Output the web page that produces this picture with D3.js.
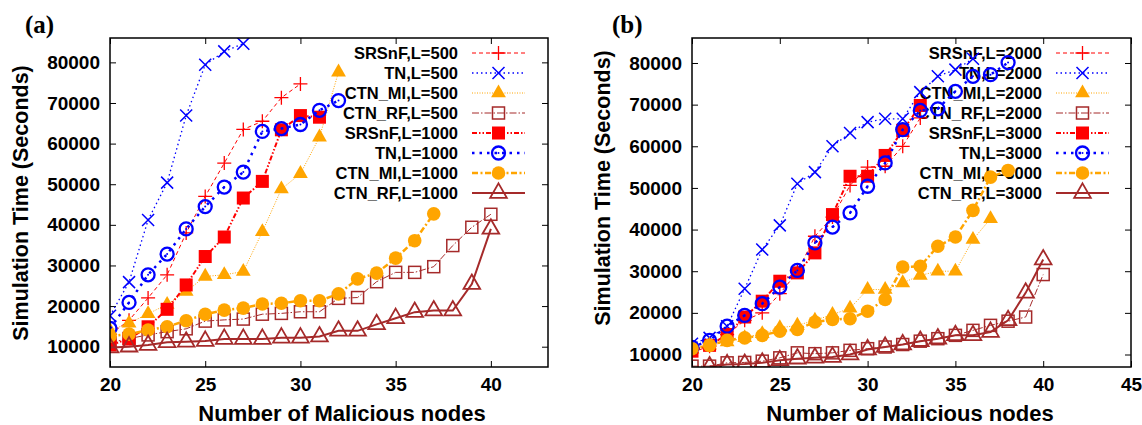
<!DOCTYPE html>
<html>
<head>
<meta charset="utf-8">
<script src="https://cdn.jsdelivr.net/npm/d3@7/dist/d3.min.js"></script>
<style>
body { margin: 0; background: white; }
text { font-family: "Liberation Sans", Arial, sans-serif; font-weight: bold; fill: black; }
.axis text { font-size: 19px; }
.axis line { stroke: black; stroke-width: 1; }
.axis path { display: none; }
</style>
</head>
<body>
<script>

// --- panel (a): values per series, x starts at 20 unless noted
const srsnf500  = [13000, 16500, 22000, 27700, 38000, 47000, 55200, 63500, 65500, 71300, 74700];
const tn500     = [17600, 25900, 41200, 50400, 66900, 79400, 82700, 84600];
const ctnmi500  = [14000, 15800, 18100, 20400, 23600, 27300, 27700, 28500, 38300, 48800, 52600, 61600, 77600];
const ctnrf500  = [11000, 12000, 12900, 13700, 14400, 16300, 16600, 16800, 18000, 18200, 18600, 18600,
                   21900, 22100, 26000, 28300, 28300, 29700, 34900, 39400, 42600];
const srsnf1000 = [10400, 11900, 14900, 19200, 25200, 32200, 37000, 46600, 50700, 63400, 66900, 66500];
const tn1000    = [14500, 20900, 27700, 32800, 39000, 44500, 49300, 53000, 63000, 63700, 64700, 68200, 70600];
const ctnmi1000 = [12600, 13100, 14100, 14900, 16400, 18000, 19000, 19500, 20500, 20700, 21300, 21300,
                   23000, 26700, 28100, 31800, 36100, 42700];
const ctnrf1000 = [9800, 10000, 10400, 11100, 11200, 11400, 11900, 11900, 11900, 12200, 12200, 12500,
                   13900, 13900, 15500, 17000, 18500, 18900, 18900, 25400, 39000];

// --- panel (b)
const srsnf2000 = [10500, 12000, 14800, 18200, 20000, 24600, 29800, 38400, 43000, 50600, 55000, 55200, 60000, 66800];
const tn2000    = [12600, 14000, 16800, 25800, 35200, 41000, 51000, 53800, 60000, 63200, 65800, 66600, 66600,
                   73000, 76800, 78400, 81000];
const ctnmi2000 = [11200, 12200, 13000, 14000, 15000, 16400, 17000, 18200, 19600, 21100, 25600, 25600,
                   27200, 29000, 30000, 30000, 37600, 42600];
const ctnrf2000 = [7200, 7200, 8000, 8100, 8400, 9200, 10400, 10200, 10400, 11000, 11400, 11800, 12400,
                   13200, 13800, 14600, 15800, 17000, 18000, 19000, 29200];
const srsnf3000 = [10800, 12200, 14800, 19000, 22800, 27600, 29600, 34400, 43600, 52800, 52800, 57800, 63800, 69800];
const tn3000    = [11700, 13400, 16800, 19400, 22200, 26200, 30200, 36800, 40600, 44000, 50400, 56000,
                   64000, 68600, 69000, 73200, 76800, 77200, 80100];
const ctnmi3000 = [11400, 12200, 13400, 14000, 14600, 15600, 16000, 17800, 18400, 18600, 20400, 23200,
                   31000, 31200, 36000, 38200, 44600, 52600, 54200];
const ctnrf3000 = [7100, 7600, 7700, 8000, 8600, 9000, 9200, 9400, 10000, 11200, 11800, 12400, 13200,
                   13800, 14600, 14600, 15400, 18200, 24800, 32800]; // starts at 21

const xTicksA = [20, 25, 30, 35, 40];
const xTicksB = [20, 25, 30, 35, 40, 45];
const yTicks = [10000, 20000, 30000, 40000, 50000, 60000, 70000, 80000];

const RED = "#ff0000", BLUE = "#0000ff", ORANGE = "#ffa500", BROWN = "#a52a2a";

// style for each of the 8 slots (same in both panels)
const styles = [
  {color: RED,    dash: "4,3",          width: 1,   marker: "plus"},
  {color: BLUE,   dash: "1.5,3",        width: 1.3, marker: "cross"},
  {color: ORANGE, dash: "1,1.5",        width: 1,   marker: "tri"},
  {color: BROWN,  dash: "7,2,1.5,2",    width: 1,   marker: "square"},
  {color: RED,    dash: "5,2,1.5,2,1.5,2", width: 2, marker: "fsquare"},
  {color: BLUE,   dash: "2.5,5",        width: 2.5, marker: "circle"},
  {color: ORANGE, dash: "6,2.5,2,2.5",  width: 2.5, marker: "fcircle"},
  {color: BROWN,  dash: null,           width: 2,   marker: "otri"}
];

const panels = [
  {
    label: "(a)", labelX: 25, xDom: [20, 43], yDom: [5000, 86000], left: 110, right: 548,
    xTicks: xTicksA, yTitleY: 203, xTitleX: 342, keyX: 458,
    series: [
      {name: "SRSnF,L=500", start: 20, v: srsnf500},
      {name: "TN,L=500", start: 20, v: tn500},
      {name: "CTN_MI,L=500", start: 20, v: ctnmi500},
      {name: "CTN_RF,L=500", start: 20, v: ctnrf500},
      {name: "SRSnF,L=1000", start: 20, v: srsnf1000},
      {name: "TN,L=1000", start: 20, v: tn1000},
      {name: "CTN_MI,L=1000", start: 20, v: ctnmi1000},
      {name: "CTN_RF,L=1000", start: 20, v: ctnrf1000}
    ]
  },
  {
    label: "(b)", labelX: 612, xDom: [20, 45], yDom: [7000, 86000], left: 692, right: 1131,
    xTicks: xTicksB, yTitleY: 188, xTitleX: 910, keyX: 1042,
    series: [
      {name: "SRSnF,L=2000", start: 20, v: srsnf2000},
      {name: "TN,L=2000", start: 20, v: tn2000},
      {name: "CTN_MI,L=2000", start: 20, v: ctnmi2000},
      {name: "CTN_RF,L=2000", start: 20, v: ctnrf2000},
      {name: "SRSnF,L=3000", start: 20, v: srsnf3000},
      {name: "TN,L=3000", start: 20, v: tn3000},
      {name: "CTN_MI,L=3000", start: 20, v: ctnmi3000},
      {name: "CTN_RF,L=3000", start: 21, v: ctnrf3000}
    ]
  }
];

const svg = d3.select("body").append("svg")
  .attr("width", 1142).attr("height", 425);

const plotTop = 38, plotBottom = 367;

function drawMarker(g, type, color, x, y) {
  if (type === "plus") {
    g.append("path").attr("d", `M${x-7},${y}H${x+7}M${x},${y-7}V${y+7}`)
      .attr("stroke", color).attr("stroke-width", 1.3).attr("fill", "none");
  } else if (type === "cross") {
    g.append("path").attr("d", `M${x-6},${y-6}L${x+6},${y+6}M${x-6},${y+6}L${x+6},${y-6}`)
      .attr("stroke", color).attr("stroke-width", 1.5).attr("fill", "none");
  } else if (type === "tri") {
    g.append("path").attr("transform", `translate(${x},${y})`)
      .attr("d", d3.symbol(d3.symbolTriangle, 95)()).attr("fill", color);
  } else if (type === "square") {
    g.append("rect").attr("x", x-6).attr("y", y-6).attr("width", 12).attr("height", 12)
      .attr("fill", "none").attr("stroke", color).attr("stroke-width", 1.5);
  } else if (type === "fsquare") {
    g.append("rect").attr("x", x-6.5).attr("y", y-6.5).attr("width", 13).attr("height", 13)
      .attr("fill", color);
  } else if (type === "circle") {
    g.append("circle").attr("cx", x).attr("cy", y).attr("r", 6.5)
      .attr("fill", "none").attr("stroke", color).attr("stroke-width", 2.3);
    g.append("circle").attr("cx", x).attr("cy", y).attr("r", 1).attr("fill", color);
  } else if (type === "fcircle") {
    g.append("circle").attr("cx", x).attr("cy", y).attr("r", 6.8).attr("fill", color);
  } else if (type === "otri") {
    g.append("path").attr("transform", `translate(${x},${y})`)
      .attr("d", d3.symbol(d3.symbolTriangle, 120)())
      .attr("fill", "none").attr("stroke", color).attr("stroke-width", 1.8);
  }
}

panels.forEach(p => {
  const x = d3.scaleLinear().domain(p.xDom).range([p.left, p.right]);
  const y = d3.scaleLinear().domain(p.yDom).range([plotBottom, plotTop]);
  const w = p.right - p.left, h = plotBottom - plotTop;

  const clipId = "clip" + p.label.replace(/\W/g, "");
  svg.append("clipPath").attr("id", clipId)
    .append("rect").attr("x", p.left).attr("y", plotTop).attr("width", w).attr("height", h);

  // axes (ticks point inward, gnuplot style)
  svg.append("g").attr("class", "axis").attr("transform", `translate(0,${plotBottom})`)
    .call(d3.axisBottom(x).tickValues(p.xTicks).tickSize(-6).tickPadding(11).tickFormat(d3.format("d")));
  svg.append("g").attr("class", "axis").attr("transform", `translate(0,${plotTop})`)
    .call(d3.axisTop(x).tickValues(p.xTicks).tickSize(-6).tickFormat(""));
  svg.append("g").attr("class", "axis").attr("transform", `translate(${p.left},0)`)
    .call(d3.axisLeft(y).tickValues(yTicks).tickSize(-6).tickPadding(10).tickFormat(d3.format("d")));
  svg.append("g").attr("class", "axis").attr("transform", `translate(${p.right},0)`)
    .call(d3.axisRight(y).tickValues(yTicks).tickSize(-6).tickFormat(""));

  // key
  const key = svg.append("g");
  p.series.forEach((s, i) => {
    const st = styles[i];
    const ky = 53 + i * 20;
    key.append("text").attr("x", p.keyX).attr("y", ky).attr("dy", "0.36em")
      .attr("text-anchor", "end").style("font-size", "16.5px").text(s.name);
    key.append("line").attr("x1", p.keyX + 14).attr("x2", p.keyX + 67)
      .attr("y1", ky).attr("y2", ky)
      .attr("stroke", st.color).attr("stroke-width", st.width)
      .attr("stroke-dasharray", st.dash);
    drawMarker(key, st.marker, st.color, p.keyX + 40.5, ky);
  });

  // data
  const plot = svg.append("g").attr("clip-path", `url(#${clipId})`);
  const line = d3.line().x(d => x(d[0])).y(d => y(d[1]));
  p.series.forEach((s, i) => {
    const st = styles[i];
    const pts = s.v.map((v, j) => [s.start + j, v]);
    plot.append("path").datum(pts).attr("d", line)
      .attr("fill", "none").attr("stroke", st.color).attr("stroke-width", st.width)
      .attr("stroke-dasharray", st.dash);
    pts.forEach(d => drawMarker(plot, st.marker, st.color, x(d[0]), y(d[1])));
  });

  // frame
  svg.append("rect").attr("x", p.left).attr("y", plotTop).attr("width", w).attr("height", h)
    .attr("fill", "none").attr("stroke", "black").attr("stroke-width", 1.5);

  // titles
  svg.append("text").attr("x", p.xTitleX).attr("y", 413).attr("dy", "0.35em")
    .attr("text-anchor", "middle").style("font-size", "22px").text("Number of Malicious nodes");
  svg.append("text")
    .attr("transform", `translate(${p.left - 90},${p.yTitleY}) rotate(-90)`)
    .attr("dy", "0.35em").attr("text-anchor", "middle").style("font-size", "21.5px")
    .text("Simulation Time (Seconds)");
  svg.append("text").attr("x", p.labelX).attr("y", 33)
    .style("font-family", "'Liberation Serif', 'Times New Roman', serif").style("font-size", "25px")
    .text(p.label);
});

</script>
</body>
</html>
